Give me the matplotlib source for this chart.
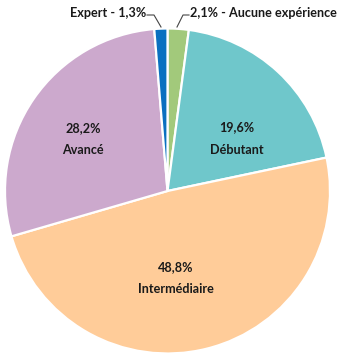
import matplotlib
matplotlib.use("Agg")
import matplotlib.pyplot as plt

categories = ["Aucune expérience", "Débutant", "Intermédiaire", "Avancé", "Expert"]
shares = [2.1, 19.6, 48.8, 28.2, 1.3]
colors = ["#A2C97B", "#6FC7CB", "#FFCC99", "#CCA9CD", "#0A70C0"]

def pct(v):
    return f"{v:.1f}%".replace(".", ",")

W, H = 344, 358
fig = plt.figure(figsize=(W / 100, H / 100), dpi=100)
ax = fig.add_axes([0, 0, 1, 1])

cx, cy, r = 167.5, H - 191, 162.5
ax.pie(shares, colors=colors, startangle=90, counterclock=False,
       center=(cx, cy), radius=r, frame=True,
       wedgeprops=dict(edgecolor="white", linewidth=1.6))
ax.set_xlim(0, W)
ax.set_ylim(0, H)
ax.set_aspect("equal")
ax.axis("off")

font = dict(family=["Lato", "DejaVu Sans"], fontsize=9.1, fontweight="bold",
            color="#1a1a1a", ha="center", va="center")

# labels inside the large slices
inside = {1: (237, 127, 150), 2: (176, 267, 289), 3: (83, 128, 150)}
for i, (x, y1, y2) in inside.items():
    ax.text(x, H - y1, pct(shares[i]), **font)
    ax.text(x, H - y2, categories[i], **font)

# outside labels for the thin slices, with leader lines
ax.text(146, H - 13, f"{categories[4]} - {pct(shares[4])}",
        **{**font, "ha": "right"})
ax.text(190, H - 13, f"{pct(shares[0])} - {categories[0]}",
        **{**font, "ha": "left"})
ax.plot([147, 154, 161], [H - 15, H - 15, H - 27], color="#444444", lw=0.8)
ax.plot([177, 183, 189], [H - 27, H - 15, H - 15], color="#444444", lw=0.8)

fig.savefig("out.png", dpi=100, facecolor="white")
